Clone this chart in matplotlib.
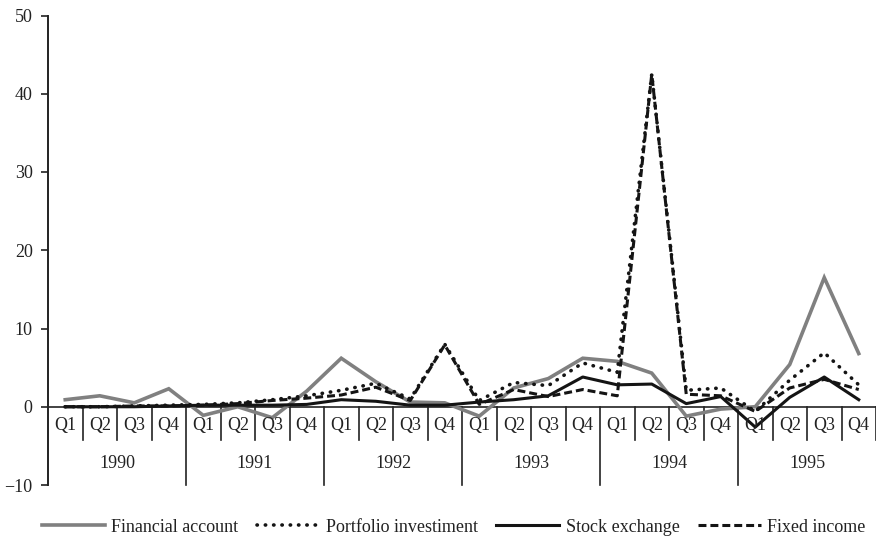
import matplotlib.pyplot as plt
import numpy as np

years = ["1990", "1991", "1992", "1993", "1994", "1995"]
quarters = ["Q1", "Q2", "Q3", "Q4"]

financial_account = [0.9, 1.4, 0.5, 2.3, -1.1, 0.0, -1.4, 2.0,
                     6.2, 3.2, 0.6, 0.5, -1.2, 2.4, 3.6, 6.2,
                     5.8, 4.3, -1.2, -0.3, 0.0, 5.4, 16.5, 6.8]
portfolio_investment = [0.0, 0.0, 0.1, 0.2, 0.3, 0.5, 0.9, 1.4,
                        2.1, 3.0, 1.0, 8.0, 0.8, 3.1, 2.7, 5.6,
                        4.4, 42.5, 2.1, 2.4, -0.6, 3.4, 6.9, 2.8]
stock_exchange = [0.0, 0.0, 0.0, 0.1, 0.2, 0.2, 0.2, 0.3,
                  0.9, 0.7, 0.2, 0.2, 0.6, 0.9, 1.4, 3.8,
                  2.8, 2.9, 0.4, 1.3, -2.6, 1.2, 3.8, 0.9]
fixed_income = [0.0, 0.0, 0.1, 0.1, 0.2, 0.4, 0.8, 1.1,
                1.5, 2.5, 0.8, 7.9, 0.3, 2.2, 1.3, 2.2,
                1.4, 42.5, 1.6, 1.4, -0.6, 2.4, 3.5, 2.2]

plt.rcParams['font.family'] = ['Liberation Serif', 'DejaVu Serif']

fig = plt.figure(figsize=(8.76, 5.37), dpi=100)
ax = fig.add_axes([48 / 876, 52 / 537, 828 / 876, 469.5 / 537])

x = np.arange(len(financial_account))

ax.plot(x, financial_account, color="#808080", lw=2.6, solid_joinstyle="miter",
        label="Financial account")
ax.plot(x, portfolio_investment, color="#141414", lw=2.6, linestyle=(0, (0.1, 2.2)),
        dash_capstyle="round", label="Portfolio investiment")
ax.plot(x, stock_exchange, color="#141414", lw=2.2, label="Stock exchange")
ax.plot(x, fixed_income, color="#141414", lw=2.2, linestyle=(0, (2.6, 1.3)),
        label="Fixed income")

ax.set_xlim(-0.5, len(x) - 0.5)
ax.set_ylim(-10, 50)
ax.set_yticks(range(-10, 51, 10))
ax.set_yticklabels(["\u221210"] + [str(v) for v in range(0, 51, 10)])
ax.tick_params(axis="y", direction="out", length=5, width=1.2, labelsize=13,
               colors="#222222", pad=6)
ax.set_xticks([])

for s in ["top", "right", "bottom"]:
    ax.spines[s].set_visible(False)
ax.spines["left"].set_linewidth(1.4)
ax.spines["left"].set_color("#222222")

# category axis drawn at zero
ax.axhline(0, color="#222222", lw=1.2, zorder=1)
for i in range(len(x)):
    ax.text(i, -2.4, quarters[i % 4], ha="center", va="center", fontsize=13,
            color="#222222")
    if i > 0:
        bottom = -10 if i % 4 == 0 else -4.2
        ax.plot([i - 0.5, i - 0.5], [0, bottom], color="#222222", lw=1.2,
                clip_on=False, zorder=1)
ax.plot([len(x) - 0.5] * 2, [0, -4.2], color="#222222", lw=1.2, clip_on=False)
for j, yr in enumerate(years):
    ax.text(4 * j + 1.5, -7.2, yr, ha="center", va="center", fontsize=13,
            color="#222222")

ax.legend(loc="center", bbox_to_anchor=(0.49, -0.09), ncol=4, frameon=False,
          fontsize=13, handlelength=3.5, handletextpad=0.35, columnspacing=1.0,
          labelcolor="#222222")

fig.savefig("out.png", dpi=100)
